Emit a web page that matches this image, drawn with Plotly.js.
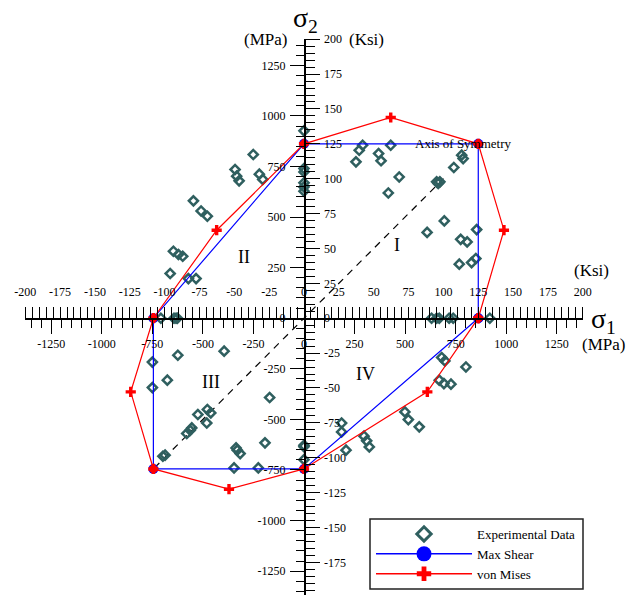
<!DOCTYPE html>
<html><head><meta charset="utf-8">
<script src="https://cdn.plot.ly/plotly-3.0.1.min.js"></script>
<style>html,body{margin:0;padding:0;background:#fff}#chart{width:637px;height:595px}</style>
</head><body><div id="chart"></div>
<script>
// ---------- data (MPa) ----------
const expX = [0,257,273,290,369,381,429,471,417,656,664,672,741,780,787,694,609,775,807,854,768,829,850,
  631,656,669,718,738,919, 0,0,0,0,0,
  -251,-341,-333,-321,-221,-204,-547,-509,-478,-646,-621,-600,-662,-572,-534,
  -708,-643,-633,-626,
  -395,-624,-750,-676,-750,-170,-478,-461,-525,-481,-555,-563,-580,-193,-336,-330,-316,-698,-687,-346,-226,
  0,0,0,
  681,697,801,669,692,727,499,516,570,186,186,208,297,310,323];
const expY = [926,773,830,855,814,778,855,698,619,674,666,674,745,806,789,481,424,390,377,438,267,275,295,
  0,0,0,0,0,0, 740,723,669,649,628,
  809,735,702,679,712,686,580,530,504,331,315,306,221,196,196,
  0,0,0,0,
  -163,-183,-217,-306,-343,-392,-451,-468,-476,-518,-542,-554,-570,-616,-641,-652,-669,-682,-677,-740,-740,
  -628,-635,-699,
  -194,-211,-241,-306,-323,-326,-463,-501,-537,-518,-562,-652,-583,-606,-636];

const maxShearX = [862, 862, 0, -745, -745, 0, 862];
const maxShearY = [0, 862, 862, 0, -745, -745, 0];

const vonMisesX = [862, 989, 862, 429, 0, -432, -745, -857, -745, -371, 0, 610, 862];
const vonMisesY = [0, 435, 862, 992, 862, 435, 0, -364, -745, -845, -745, -364, 0];

const symX = [-740, 690];
const symY = [-740, 690];

const mpaTicks = [-1250,-1000,-750,-500,-250,0,250,500,750,1000,1250];
const ksiTicks = [-200,-175,-150,-125,-100,-75,-50,-25,0,25,50,75,100,125,150,175,200];
const mpaTickText = mpaTicks.map(String);
const ksiTickText = ksiTicks.map(String);
const MPA_PER_KSI = 6.895;

// ---------- layout helpers ----------
const FONT = "'Liberation Serif', 'Times New Roman', Times, serif";
const W = 637, H = 595;
const px = v => v / W;
const py = v => 1 - v / H;
const xRange = [-1380, 1380];
const yRange = [-1368, 1380];
const xDomain = [25 / W, 583 / W];
const yDomain = [0, 556 / H];

const baseAxis = {
  showgrid: false, zeroline: false, showline: true, linecolor: '#000', linewidth: 1.5,
  ticks: 'outside', tickcolor: '#000', tickwidth: 1, tickmode: 'array',
  tickfont: {family: FONT, size: 12, color: '#000'}, fixedrange: true, automargin: false
};

const traces = [
  {x: symX, y: symY, mode: 'lines', line: {color: '#000', width: 1.2, dash: '7px,6px'},
   showlegend: false, hoverinfo: 'skip'},
  {x: expX, y: expY, mode: 'markers', name: 'Experimental Data', showlegend: false,
   marker: {symbol: 'diamond-open', size: 7, color: '#2f5f5f', line: {width: 2.5, color: '#2f5f5f'}}},
  {x: maxShearX, y: maxShearY, mode: 'lines+markers', name: 'Max Shear', showlegend: false,
   line: {color: '#0000ff', width: 1.2}, marker: {symbol: 'circle', size: 10, color: '#0000ff'}},
  {x: vonMisesX, y: vonMisesY, mode: 'lines+markers', name: 'von Mises', showlegend: false,
   line: {color: '#ff0000', width: 1.2}, marker: {symbol: 'cross', size: 8.5, color: '#ff0000'}},
  {x: maxShearX, y: maxShearY, mode: 'markers', showlegend: false, hoverinfo: 'skip',
   marker: {symbol: 'circle', size: 8, color: '#ff0000'}},
  // Ksi axes carrier (no data)
  {x: [null], y: [null], xaxis: 'x2', yaxis: 'y2', mode: 'markers', showlegend: false, hoverinfo: 'skip'},
  // legend entries
  {x: [null], y: [null], mode: 'markers', name: 'Experimental Data',
   marker: {symbol: 'diamond-open', size: 11, color: '#2f5f5f', line: {width: 3, color: '#2f5f5f'}}},
  {x: [null], y: [null], mode: 'lines+markers', name: 'Max Shear',
   line: {color: '#0000ff', width: 1.5}, marker: {symbol: 'circle', size: 15, color: '#0000ff'}},
  {x: [null], y: [null], mode: 'lines+markers', name: 'von Mises',
   line: {color: '#ff0000', width: 1.5}, marker: {symbol: 'cross', size: 12, color: '#ff0000'}}
];

const ann = (text, x, y, size) => ({text, x: px(x), y: py(y), xref: 'paper', yref: 'paper',
  xanchor: 'center', yanchor: 'middle', showarrow: false, font: {family: FONT, size, color: '#000'}});

const layout = {
  width: W, height: H, margin: {l: 0, r: 0, t: 0, b: 0},
  paper_bgcolor: '#fff', plot_bgcolor: 'rgba(0,0,0,0)',
  font: {family: FONT, color: '#000'},
  xaxis: Object.assign({}, baseAxis, {domain: xDomain, range: xRange, anchor: 'free', position: 277 / H,
    side: 'bottom', tickvals: mpaTicks, ticktext: mpaTickText, ticklen: 14, ticklabelstandoff: 0,
    minor: {tickmode: 'linear', tick0: 0, dtick: 50, ticks: 'outside', ticklen: 8, tickcolor: '#000', tickwidth: 1}}),
  xaxis2: Object.assign({}, baseAxis, {overlaying: 'x', domain: xDomain,
    range: xRange.map(v => v / MPA_PER_KSI), anchor: 'free', position: 277 / H,
    side: 'top', tickvals: ksiTicks, ticktext: ksiTickText, ticklen: 11, ticklabelstandoff: 6,
    minor: {tickmode: 'linear', tick0: 0, dtick: 5, ticks: 'outside', ticklen: 11, tickcolor: '#000', tickwidth: 1}}),
  yaxis: Object.assign({}, baseAxis, {domain: yDomain, range: yRange, anchor: 'free', position: 304 / W,
    side: 'left', tickvals: mpaTicks, ticktext: mpaTickText, ticklen: 14, ticklabelstandoff: 2,
    minor: {tickmode: 'linear', tick0: 0, dtick: 50, ticks: 'outside', ticklen: 8, tickcolor: '#000', tickwidth: 1}}),
  yaxis2: Object.assign({}, baseAxis, {overlaying: 'y', domain: yDomain,
    range: yRange.map(v => v / MPA_PER_KSI), anchor: 'free', position: 304 / W,
    side: 'right', tickvals: ksiTicks, ticktext: ksiTickText, ticklen: 14, ticklabelstandoff: 2,
    minor: {tickmode: 'linear', tick0: 0, dtick: 5, ticks: 'outside', ticklen: 9, tickcolor: '#000', tickwidth: 1}}),
  showlegend: true,
  legend: {x: px(371), y: py(519), xanchor: 'left', yanchor: 'top', bgcolor: 'rgba(0,0,0,0)',
    borderwidth: 0, itemwidth: 96, font: {family: FONT, size: 13, color: '#000'}, tracegroupgap: 0},
  shapes: [{type: 'rect', xref: 'paper', yref: 'paper', x0: px(370), x1: px(583), y0: py(589), y1: py(519),
    fillcolor: '#fff', line: {color: '#222', width: 1.5}, layer: 'above'}],
  annotations: [
    ann('σ<sub>2</sub>', 305, 19, 28),
    ann('σ<sub>1</sub>', 603, 320, 28),
    ann('(MPa)', 265, 40, 17),
    ann('(Ksi)', 366, 40, 17),
    ann('(Ksi)', 591, 271, 17),
    ann('(MPa)', 603, 344, 17),
    ann('I', 397, 245, 18),
    ann('II', 244, 257, 18),
    ann('III', 211, 382, 18),
    ann('IV', 365, 374, 18),
    ann('Axis of Symmetry', 463, 143, 13)
  ]
};

Plotly.newPlot('chart', traces, layout, {displayModeBar: false, staticPlot: true});
</script></body></html>
